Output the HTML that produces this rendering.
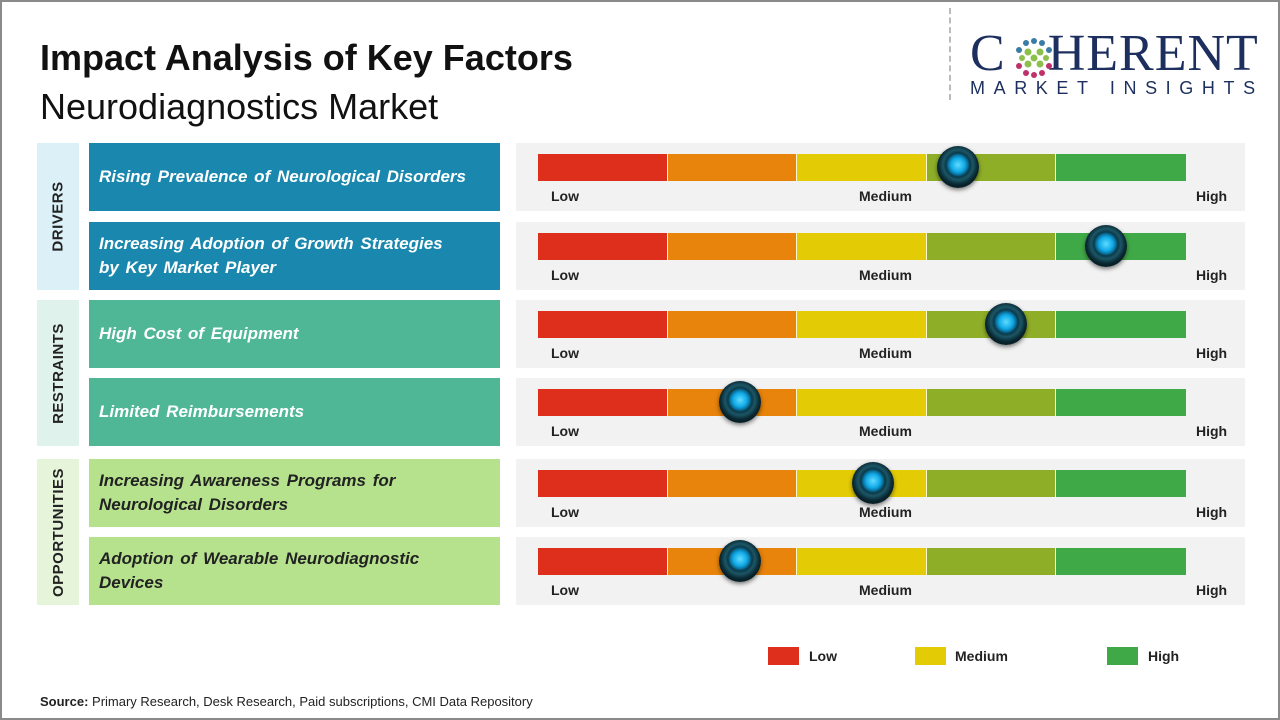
<!DOCTYPE html>
<html><head><meta charset="utf-8"><style>
*{margin:0;padding:0;box-sizing:border-box}
body{width:1280px;height:720px;background:#fff;position:relative;overflow:hidden;font-family:"Liberation Sans",sans-serif}
.frame{position:absolute;left:0;top:0;width:1280px;height:720px;border:2px solid #8a8a8a}
.abs{position:absolute}
.cat{position:absolute;left:37px;width:42px;display:flex;align-items:center;justify-content:center}
.cat span{transform:rotate(-90deg);white-space:nowrap;font-weight:bold;font-size:15px;color:#222;letter-spacing:0.5px}
.lab{position:absolute;left:89px;width:411px;height:68px;display:flex;align-items:center;padding-left:10px;color:#fff;font-weight:bold;font-style:italic;font-size:17px;line-height:24px;word-spacing:2px}
.pan{position:absolute;left:516px;width:729px;height:68px;background:#f2f2f2}
.bar{position:absolute;left:22px;top:11px;height:27px;width:648px;display:flex}
.bar div{width:129.6px;height:27px;border-right:1.5px solid #fff7d0}
.bar div:last-child{border-right:none}
.t{position:absolute;top:45px;font-size:14px;font-weight:bold;color:#222}
.knob{position:absolute;width:42px;height:42px;border-radius:50%;background:radial-gradient(circle at 50% 45%,#5fdcff 0,#10a8e6 7px,#0a6f99 10px,#0a3a4a 12px,#1d5666 15px,#0b2e38 19px,#082028 21px);box-shadow:0 2px 4px rgba(0,0,0,.5)}
</style></head><body>
<div class="frame"></div>
<div class="abs" style="left:40px;top:37px;font-size:36px;font-weight:bold;color:#111">Impact Analysis of Key Factors</div>
<div class="abs" style="left:40px;top:86px;font-size:36px;color:#111">Neurodiagnostics Market</div>
<div class="abs" style="left:949px;top:8px;height:92px;border-left:2px dashed #bbb"></div>
<div class="abs" style="left:970px;top:28px;font-family:'Liberation Serif',serif;font-size:52px;color:#1c2f5e;line-height:52px;letter-spacing:1px">C<span style="display:inline-block;width:42px"></span>HERENT</div>
<svg class="abs" style="left:1012px;top:36px" width="44" height="44">
<g fill="#3a7ca5"><circle cx="22" cy="5" r="3"/><circle cx="14" cy="7" r="3"/><circle cx="30" cy="7" r="3"/><circle cx="7" cy="14" r="3"/><circle cx="37" cy="14" r="3"/></g>
<g fill="#8cc04a"><circle cx="16" cy="16" r="3.5"/><circle cx="28" cy="16" r="3.5"/><circle cx="22" cy="22" r="3.5"/><circle cx="16" cy="28" r="3.5"/><circle cx="28" cy="28" r="3.5"/><circle cx="10" cy="22" r="3"/><circle cx="34" cy="22" r="3"/></g>
<g fill="#c0306a"><circle cx="7" cy="30" r="3"/><circle cx="37" cy="30" r="3"/><circle cx="14" cy="37" r="3"/><circle cx="30" cy="37" r="3"/><circle cx="22" cy="39" r="3"/></g></svg>
<div class="abs" style="left:970px;top:78px;font-size:18px;color:#1c2f5e;letter-spacing:8.6px">MARKET INSIGHTS</div>

<div class="cat" style="top:143px;height:147px;background:#dcf0f8"><span>DRIVERS</span></div>
<div class="cat" style="top:300px;height:146px;background:#e0f2ec"><span>RESTRAINTS</span></div>
<div class="cat" style="top:459px;height:146px;background:#e6f5da"><span>OPPORTUNITIES</span></div>

<div class="lab" style="top:143px;background:#1a88ae">Rising Prevalence of Neurological Disorders</div>
<div class="lab" style="top:222px;background:#1a88ae">Increasing Adoption of Growth Strategies<br>by Key Market Player</div>
<div class="lab" style="top:300px;background:#50b796">High Cost of Equipment</div>
<div class="lab" style="top:378px;background:#50b796">Limited Reimbursements</div>
<div class="lab" style="top:459px;background:#b6e28e;color:#222">Increasing Awareness Programs for<br>Neurological Disorders</div>
<div class="lab" style="top:537px;background:#b6e28e;color:#222">Adoption of Wearable Neurodiagnostic<br>Devices</div>

<div id="panels"></div>
<script>
var tops=[143,222,300,378,459,537],k=[958,1106,1006,740,873,740];
var h='';
for(var i=0;i<6;i++){
h+='<div class="pan" style="top:'+tops[i]+'px"><div class="bar"><div style="background:#dd2f1c"></div><div style="background:#e8830b"></div><div style="background:#e3cb05"></div><div style="background:#8fae28"></div><div style="background:#40a947"></div></div>'+
'<span class="t" style="left:35px">Low</span><span class="t" style="left:343px">Medium</span><span class="t" style="left:680px">High</span>'+
'<div class="knob" style="left:'+(k[i]-516-21)+'px;top:3px"></div></div>';
}
document.getElementById('panels').innerHTML=h;
</script>

<div class="abs" style="left:768px;top:647px;width:31px;height:18px;background:#dd2f1c"></div>
<div class="abs" style="left:809px;top:648px;font-size:14px;font-weight:bold;color:#222">Low</div>
<div class="abs" style="left:915px;top:647px;width:31px;height:18px;background:#e3cb05"></div>
<div class="abs" style="left:955px;top:648px;font-size:14px;font-weight:bold;color:#222">Medium</div>
<div class="abs" style="left:1107px;top:647px;width:31px;height:18px;background:#40a947"></div>
<div class="abs" style="left:1148px;top:648px;font-size:14px;font-weight:bold;color:#222">High</div>

<div class="abs" style="left:40px;top:694px;font-size:13px;color:#222"><b>Source:</b> Primary Research, Desk Research, Paid subscriptions, CMI Data Repository</div>
</body></html>
